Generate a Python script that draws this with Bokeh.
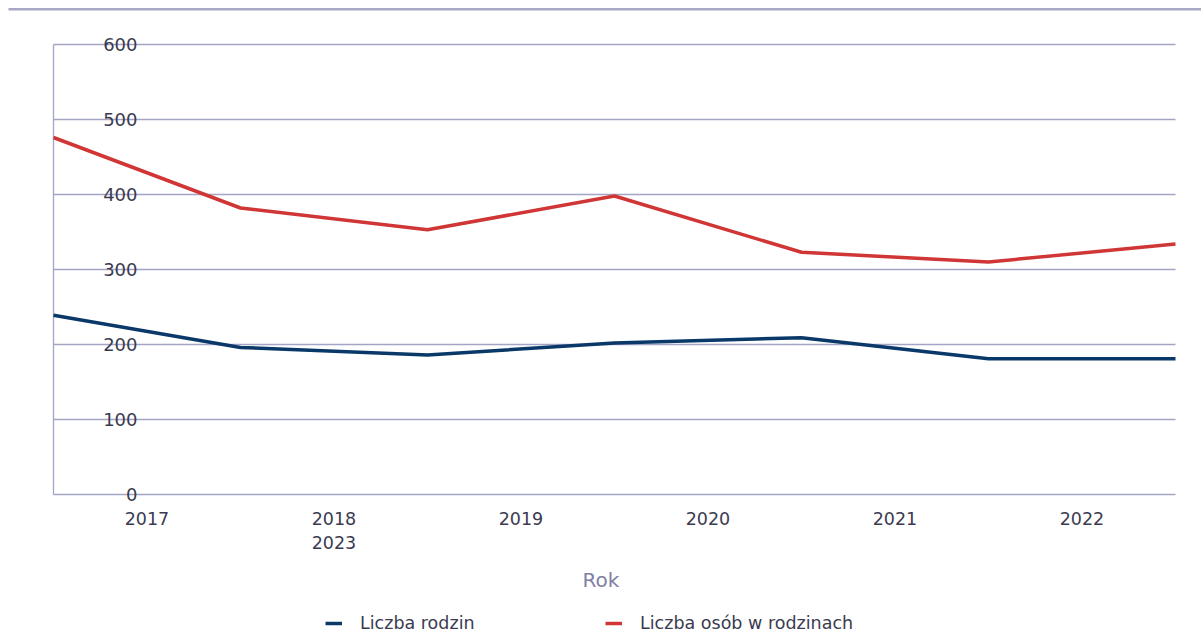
from bokeh.plotting import figure
from bokeh.layouts import column
from bokeh.models import (Range1d, FixedTicker, Legend, LegendItem, BoxAnnotation,
                          ColumnDataSource)
from bokeh.core.properties import value
from bokeh.embed import file_html
from bokeh.resources import INLINE

# ---- data ----
years = [2017, 2018, 2019, 2020, 2021, 2022, 2023]
liczba_rodzin = [239, 196, 186, 202, 209, 181, 181]
liczba_osob = [476, 382, 353, 398, 323, 310, 334]
series_names = ["Liczba rodzin", "Liczba osób w rodzinach"]
x_tick_pos = [0.5, 1.5, 2.5, 3.5, 4.5, 5.5]
x_tick_labels = ["2017", "2018\n2023", "2019", "2020", "2021", "2022"]
y_ticks = [0, 100, 200, 300, 400, 500, 600]
y_tick_labels = ["0", "100", "200", "300", "400", "500", "600"]

FONT = "DejaVu Sans"
TEXT = "#3b3b50"
GRID = "#a4a4c4"
RED = "#d03636"
NAVY = "#0a3868"

W, H = 1201, 634
H_MAIN = 600
H_LEG = H - H_MAIN
PX_X = 187.0          # pixels per year step
PX_Y = 0.75           # pixels per unit
X0 = 53               # pixel of first point
Y0 = 494              # pixel of value 0
FRAME_BOTTOM = 506

xs = list(range(len(years)))
n = len(years) - 1

p = figure(width=W, height=H_MAIN, output_backend="svg", toolbar_location=None,
           x_range=Range1d(-X0 / PX_X, (W - X0) / PX_X),
           y_range=Range1d(-(FRAME_BOTTOM - Y0) / PX_Y, Y0 / PX_Y),
           min_border_left=0, min_border_right=0, min_border_top=0,
           min_border_bottom=H_MAIN - FRAME_BOTTOM)
p.outline_line_color = None
p.background_fill_color = "white"
p.border_fill_color = "white"
p.xgrid.grid_line_color = None
p.ygrid.grid_line_color = None
p.yaxis.visible = False

# horizontal grid lines and left axis line
p.segment(x0=[0] * len(y_ticks), x1=[n] * len(y_ticks), y0=y_ticks, y1=y_ticks,
          line_color=GRID, line_width=1.3)
p.segment(x0=[0], x1=[0], y0=[y_ticks[0]], y1=[y_ticks[-1]],
          line_color=GRID, line_width=1.3)

# x axis
p.xaxis.ticker = FixedTicker(ticks=x_tick_pos)
p.xaxis.major_label_overrides = dict(zip(x_tick_pos, x_tick_labels))
p.xaxis.axis_line_color = None
p.xaxis.major_tick_line_color = None
p.xaxis.minor_tick_line_color = None
p.xaxis.major_tick_out = 0
p.xaxis.major_tick_in = 0
p.xaxis.major_label_standoff = 2
p.xaxis.major_label_text_font = FONT
p.xaxis.major_label_text_font_size = "17.5px"
p.xaxis.major_label_text_color = TEXT
p.xaxis.axis_label = "Rok"
p.xaxis.axis_label_text_font = FONT
p.xaxis.axis_label_text_font_size = "20px"
p.xaxis.axis_label_text_font_style = "normal"
p.xaxis.axis_label_text_color = "#8080a4"
p.xaxis.axis_label_standoff = 12

# y tick labels drawn inside the plot, over the grid lines
ysrc = ColumnDataSource(dict(x=[0] * len(y_ticks), y=y_ticks, t=y_tick_labels))
p.text(x="x", y="y", text="t", source=ysrc, x_offset=84, text_align="right",
       text_baseline="middle", text_font=value(FONT), text_font_size="18px",
       text_color=TEXT)

# lines
p.line(xs, liczba_rodzin, line_color=NAVY, line_width=3.5)
p.line(xs, liczba_osob, line_color=RED, line_width=3.5)

# top rule
p.add_layout(BoxAnnotation(left=-(X0 - 8) / PX_X, top=(Y0 - 7.5) / PX_Y,
                           bottom=(Y0 - 10) / PX_Y,
                           fill_color="#a8a8c4", fill_alpha=1, line_color=None))

# ---- legend strip below the chart ----
pl = figure(width=W, height=H_LEG, output_backend="svg", toolbar_location=None,
            x_range=Range1d(0, W), y_range=Range1d(0, H_LEG),
            min_border_left=0, min_border_right=0, min_border_top=0,
            min_border_bottom=0)
pl.outline_line_color = None
pl.background_fill_color = "white"
pl.border_fill_color = "white"
pl.xaxis.visible = False
pl.yaxis.visible = False
pl.xgrid.grid_line_color = None
pl.ygrid.grid_line_color = None
# same series, lying outside this strip's visible range; used only for legend glyphs
l1 = pl.line(xs, liczba_rodzin, line_color=NAVY, line_width=3.5)
l2 = pl.line(xs, liczba_osob, line_color=RED, line_width=3.5)

legend = Legend(items=[LegendItem(label=series_names[0], renderers=[l1]),
                       LegendItem(label=series_names[1], renderers=[l2])],
                location=(325, 1), orientation="horizontal",
                padding=0, margin=0, spacing=9, border_line_alpha=0,
                background_fill_alpha=0, glyph_width=17, glyph_height=20,
                label_height=20, label_width=236, label_standoff=18,
                label_text_font=FONT, label_text_font_size="17.5px",
                label_text_color=TEXT)
pl.add_layout(legend)

layout = column(p, pl, spacing=0)
open("out.html", "w").write(file_html(layout, INLINE))
